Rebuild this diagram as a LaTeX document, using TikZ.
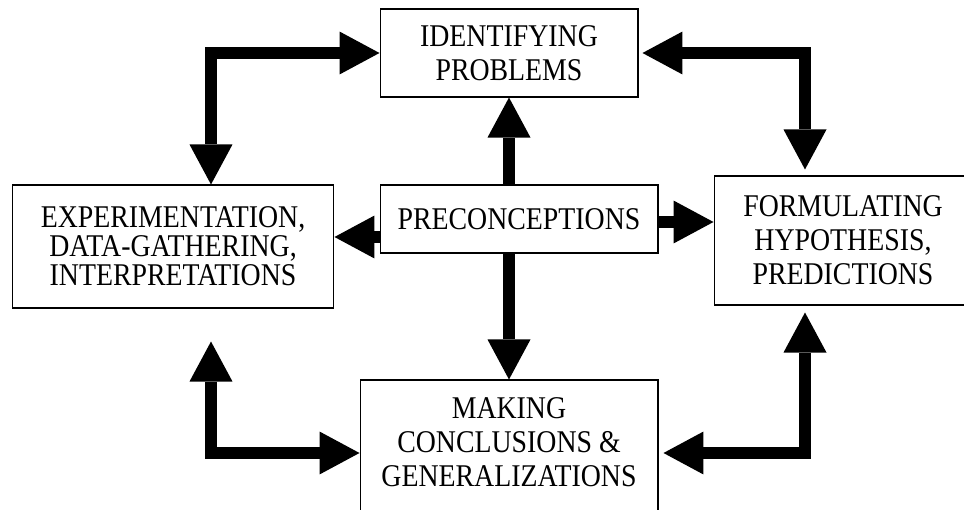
\documentclass[tikz,border=0pt]{standalone}
\usepackage{fontspec}
\setmainfont{Liberation Serif}[FakeStretch=0.88]
\usetikzlibrary{arrows.meta}

\begin{document}
\begin{tikzpicture}[x=0.02cm, y=-0.02cm,
    box/.style={draw, line width=0.6pt, inner sep=0pt, align=center,
        font=\fontsize{18pt}{19.3pt}\selectfont},
    link/.style={line width=0.24cm, line join=miter},
    head/.tip={Triangle[length=0.8cm, width=0.86cm, line width=0pt]}]
        \clip (0, 0) rectangle (964, 510);

        \node[box, minimum width=5.16cm, minimum height=1.76cm] (ident) at (509, 53) {IDENTIFYING\\PROBLEMS};
        \node[box, minimum width=5.56cm, minimum height=1.36cm] (prec) at (519, 219) {PRECONCEPTIONS};
        \node[box, minimum width=6.44cm, minimum height=2.46cm, font=\fontsize{18pt}{16.5pt}\selectfont] (exp) at (173, 246.5) {EXPERIMENTATION,\\DATA-GATHERING,\\INTERPRETATIONS};
        \node[box, minimum width=5.16cm, minimum height=2.58cm] (form) at (843, 240.5) {FORMULATING\\HYPOTHESIS,\\PREDICTIONS};
        \node[box, minimum width=5.96cm, minimum height=2.92cm] (make) at (509, 453) {};
        \node[align=center, font=\fontsize{18pt}{19.3pt}\selectfont] (maketext) at (509, 442) {MAKING\\CONCLUSIONS \&\\GENERALIZATIONS};

        \coordinate (tl) at (211, 53);
        \coordinate (tr) at (805, 53);
        \coordinate (bl) at (211, 453);
        \coordinate (br) at (805, 453);

        \draw[link, head-head] (ident.west) -| (tl |- exp.north);
        \draw[link, head-head, shorten <=0.08cm, shorten >=0.12cm] (ident.east) -| (tr |- form.north);
        \draw[link, -head] (prec.north -| ident.south) -- (ident.south);
        \draw[link, -head] ([yshift=-0.36cm]prec.west) -- ([yshift=-0.36cm]prec.west -| exp.east);
        \draw[link, -head] ([yshift=-0.06cm]prec.east) -- ([yshift=-0.06cm]prec.east -| form.west);
        \draw[link, -head] (prec.south -| make.north) -- (make.north);
        \draw[link, head-head, shorten <=0.66cm] (bl |- exp.south) |- (make.west);
        \draw[link, head-head, shorten <=0.14cm, shorten >=0.1cm] (br |- form.south) |- (make.east);
    \end{tikzpicture}
\end{document}
